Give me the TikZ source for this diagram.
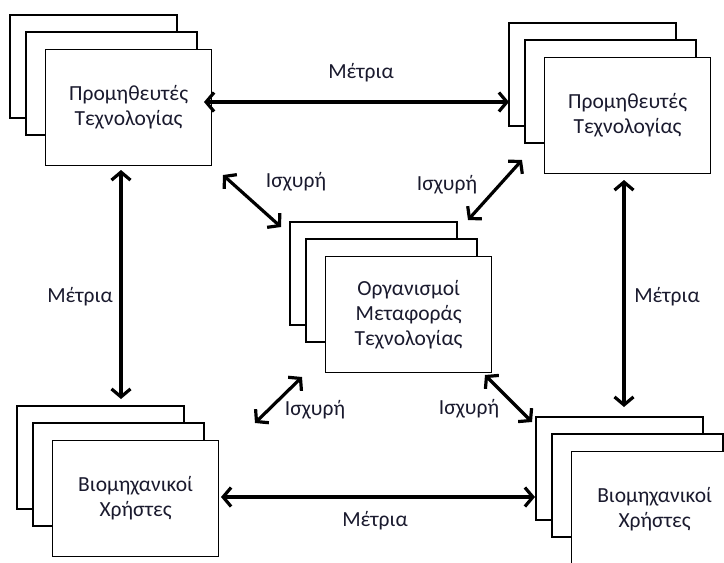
\documentclass[tikz,border=0pt]{standalone}
\usepackage{fontspec}
\setmainfont{Carlito}
\usetikzlibrary{arrows.meta}

\definecolor{ink}{HTML}{1A1A2E}

% A stack of three cards: two plain cards behind, the named front card on top
\newcommand\cardstack[4]{%
  \draw[card] (#2-35,#3-34) rectangle ++(167,103);
  \draw[card] (#2-19,#3-17) rectangle ++(171,103);
  \node[card, front, anchor=north west] (#1) at (#2,#3) {#4};
}

\tikzset{
  card/.style={draw=black, fill=white, line width=1.3pt},
  front/.style={minimum width=166pt, minimum height=116pt, inner sep=0pt,
    align=center, text=ink, font=\fontsize{21.5}{25}\selectfont},
  link/.style={line width=3.2pt, black,
    {Straight Barb[length=8pt,width=19pt]}-{Straight Barb[length=8pt,width=19pt]}},
  lbl/.style={font=\fontsize{21.5}{25}\selectfont, text=ink, inner sep=0pt}
}

\begin{document}
\begin{tikzpicture}[x=1pt,y=-1pt]
  \useasboundingbox (0,0) rectangle (724,563);
  \clip (0,0) rectangle (724,563);

  % the five stakeholder groups
  \cardstack{tl}{45}{49}{Προμηθευτές\\Τεχνολογίας}
  \cardstack{tr}{544}{57}{Προμηθευτές\\Τεχνολογίας}
  \cardstack{mid}{325}{256}{Οργανισμοί\\Μεταφοράς\\Τεχνολογίας}
  \cardstack{bl}{52}{440}{Βιομηχανικοί\\Χρήστες}
  \cardstack{br}{571}{451}{Βιομηχανικοί\\Χρήστες}

  % end points of the links
  \coordinate (topA) at (204,102);  \coordinate (topB) at (509,102);
  \coordinate (botA) at (221,497);  \coordinate (botB) at (535,497);
  \coordinate (lefA) at (121,170);  \coordinate (lefB) at (121,399);
  \coordinate (rigA) at (624,180);  \coordinate (rigB) at (624,407);
  \coordinate (d1A) at (223,175);   \coordinate (d1B) at (281,227);
  \coordinate (d2A) at (522,160);   \coordinate (d2B) at (468,220);
  \coordinate (d3A) at (302,377);   \coordinate (d3B) at (255,423);
  \coordinate (d4A) at (485,375);   \coordinate (d4B) at (532,422);

  % moderate links between the outer groups
  \draw[link] (topA) -- (topB);
  \draw[link] (botA) -- (botB);
  \draw[link] (lefA) -- (lefB);
  \draw[link] (rigA) -- (rigB);

  % strong links towards the transfer organisations
  \draw[link] (d1A) -- (d1B);
  \draw[link] (d2A) -- (d2B);
  \draw[link] (d3A) -- (d3B);
  \draw[link] (d4A) -- (d4B);

  \node[lbl] (lt) at (361,73)  {Μέτρια};
  \node[lbl] (lb) at (375,521) {Μέτρια};
  \node[lbl] (ll) at (80,297)  {Μέτρια};
  \node[lbl] (lr) at (667,297) {Μέτρια};

  \node[lbl] (s1) at (296,182) {Ισχυρή};
  \node[lbl] (s2) at (447,185) {Ισχυρή};
  \node[lbl] (s3) at (315,410) {Ισχυρή};
  \node[lbl] (s4) at (469,409) {Ισχυρή};
\end{tikzpicture}
\end{document}
